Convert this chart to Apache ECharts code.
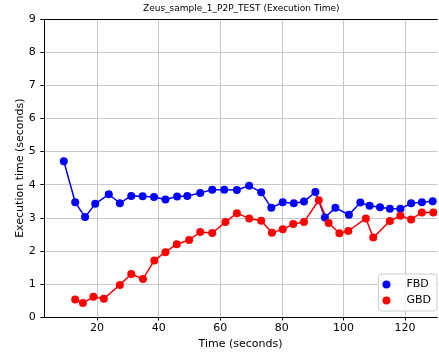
<!DOCTYPE html>
<html>
<head>
<meta charset="utf-8">
<script src="https://cdn.jsdelivr.net/npm/echarts@6/dist/echarts.min.js"></script>
<style>
html,body{margin:0;padding:0;background:#fff;}
#c{width:439px;height:358px;}
</style>
</head>
<body>
<div id="c"></div>
<script>
var titleText = "Zeus_sample_1_P2P_TEST (Execution Time)";
var xName = "Time (seconds)";
var yName = "Execution time (seconds)";
var xTicks = [20, 40, 60, 80, 100, 120];
var seriesNames = ["FBD", "GBD"];

var fbdX = [9.2, 12.9, 16.1, 19.4, 23.8, 27.4, 31.1, 34.8, 38.5, 42.2, 46.0, 49.3, 53.5, 57.4, 61.3, 65.4, 69.4, 73.3, 76.6, 80.3, 83.9, 87.2, 90.9, 94.0, 97.4, 101.8, 105.5, 108.5, 111.9, 115.1, 118.5, 122.0, 125.5, 129.0];
var fbdY = [4.71, 3.47, 3.02, 3.42, 3.71, 3.44, 3.66, 3.65, 3.63, 3.55, 3.64, 3.66, 3.75, 3.85, 3.85, 3.84, 3.97, 3.77, 3.30, 3.47, 3.44, 3.49, 3.78, 3.01, 3.30, 3.09, 3.46, 3.36, 3.32, 3.27, 3.27, 3.44, 3.47, 3.50];

var gbdX = [12.9, 15.4, 18.8, 22.2, 27.4, 31.1, 34.9, 38.6, 42.2, 45.9, 49.9, 53.5, 57.4, 61.7, 65.4, 69.4, 73.3, 76.8, 80.3, 83.7, 87.2, 92.0, 95.2, 98.7, 101.6, 107.3, 109.7, 115.1, 118.5, 122.0, 125.5, 129.2];
var gbdY = [0.53, 0.42, 0.61, 0.55, 0.97, 1.30, 1.15, 1.71, 1.96, 2.20, 2.33, 2.57, 2.54, 2.87, 3.14, 2.98, 2.91, 2.55, 2.65, 2.81, 2.87, 3.53, 2.84, 2.53, 2.60, 2.98, 2.40, 2.90, 3.06, 2.95, 3.16, 3.16];

function pairs(xs, ys) { return xs.map(function (x, i) { return [x, ys[i]]; }); }

var FONT = "DejaVu Sans";
var chart = echarts.init(document.getElementById('c'), null, {renderer: 'canvas'});
var xMin = 2.7, xMax = 130.5;
chart.setOption({
  animation: false,
  backgroundColor: '#fff',
  textStyle: {fontFamily: FONT},
  title: {
    text: titleText,
    left: 143, top: 4, padding: 0,
    textStyle: {fontFamily: FONT, fontSize: 9, fontWeight: 'normal', color: '#000'}
  },
  legend: {
    data: seriesNames,
    orient: 'vertical',
    right: 2, bottom: 47,
    padding: [5, 6, 5, 4],
    itemGap: 5,
    itemWidth: 22, itemHeight: 8,
    icon: 'circle',
    borderColor: '#cccccc', borderWidth: 1, borderRadius: 3,
    backgroundColor: 'rgba(255,255,255,0.8)',
    textStyle: {fontFamily: FONT, fontSize: 11, color: '#000', padding: [0, 0, 0, 4]}
  },
  grid: {left: 43.8, right: 1.7, top: 19.3, bottom: 41, containLabel: false},
  xAxis: [{
    type: 'value', min: xMin, max: xMax,
    name: xName, nameLocation: 'middle', nameGap: 22, nameMoveOverlap: false,
    nameTextStyle: {fontFamily: FONT, fontSize: 11, color: '#000'},
    axisLine: {show: true, onZero: false, lineStyle: {color: '#000', width: 1}},
    axisTick: {show: true, inside: false, length: 3.5, lineStyle: {color: '#000'}, customValues: xTicks},
    axisLabel: {fontFamily: FONT, fontSize: 11, color: '#000', margin: 6, customValues: xTicks},
    splitLine: {show: true, lineStyle: {color: '#c8c8c8', width: 1}}
  }, {
    type: 'value', min: xMin, max: xMax, position: 'top',
    axisLine: {show: true, onZero: false, lineStyle: {color: '#000', width: 1}},
    axisTick: {show: false}, axisLabel: {show: false}, splitLine: {show: false}
  }],
  yAxis: {
    type: 'value', min: 0, max: 9, interval: 1,
    name: yName, nameLocation: 'middle', nameGap: 18, nameRotate: 90, nameMoveOverlap: false,
    nameTextStyle: {fontFamily: FONT, fontSize: 11, color: '#000'},
    axisLine: {show: true, onZero: false, lineStyle: {color: '#000', width: 1}},
    axisTick: {show: true, inside: false, length: 3.5, lineStyle: {color: '#000'}},
    axisLabel: {fontFamily: FONT, fontSize: 11, color: '#000', margin: 8},
    splitLine: {show: true, lineStyle: {color: '#c8c8c8', width: 1}}
  },
  series: [{
    name: seriesNames[0], type: 'line', xAxisIndex: 0,
    data: pairs(fbdX, fbdY),
    symbol: 'circle', symbolSize: 8, showSymbol: true,
    itemStyle: {color: '#0000ff'},
    lineStyle: {color: '#0000ff', width: 1.5}
  }, {
    name: seriesNames[1], type: 'line', xAxisIndex: 0,
    data: pairs(gbdX, gbdY),
    symbol: 'circle', symbolSize: 8, showSymbol: true,
    itemStyle: {color: '#ff0000'},
    lineStyle: {color: '#ff0000', width: 1.5}
  }]
});
</script>
</body>
</html>
